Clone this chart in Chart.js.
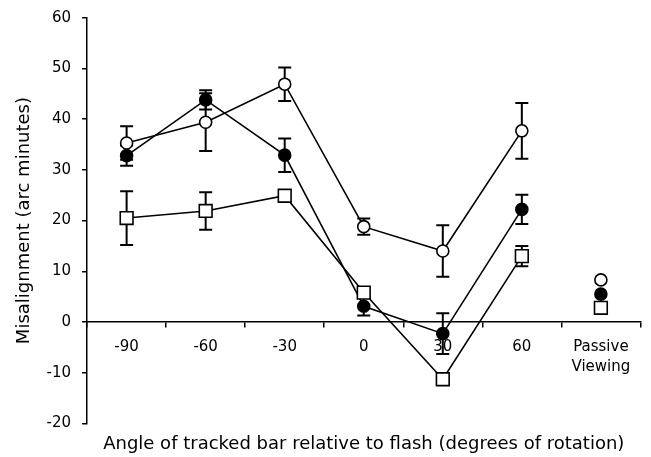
<!DOCTYPE html>
<html>
<head>
<meta charset="utf-8">
<script src="https://cdn.jsdelivr.net/npm/chart.js@4"></script>
<style>
  html, body { margin: 0; padding: 0; background: #fff; }
  #wrap { width: 651px; height: 457px; }
</style>
</head>
<body>
<div id="wrap"><canvas id="chart"></canvas></div>
<script>
// --- data ---
const angles = ['-90', '-60', '-30', '0', '30', '60', ['Passive', 'Viewing']];

const filledVals = [32.8, 43.8, 32.9, 3.1, -2.3, 22.2, 5.5];
const filledErr  = [2.0, 1.9, 3.3, 1.8, 4.0, 2.9, null];

const openVals = [35.3, 39.4, 46.9, 18.8, 14.0, 37.7, 8.3];
const openErr  = [3.3, 5.7, 3.3, 1.6, 5.1, 5.5, null];

const squareVals = [20.5, 21.9, 24.9, 5.8, -11.3, 13.0, 2.8];
const squareErr  = [5.3, 3.7, 1.0, 1.0, 1.0, 2.0, null];

const yTicks = [-20, -10, 0, 10, 20, 30, 40, 50, 60];

const FONT = "'DejaVu Sans', Arial, sans-serif";

// passive viewing point is not joined to the rest
const hideLast = c => c.p1DataIndex === angles.length - 1 ? 'rgba(0,0,0,0)' : '#000';

function series(vals, errs, style, fill, radius) {
    return {
        data: vals,
        errors: errs,
        borderColor: '#000',
        borderWidth: 1.6,
        pointStyle: style,
        pointRadius: radius,
        pointBorderWidth: 1.6,
        pointBackgroundColor: fill,
        pointBorderColor: '#000',
        segment: { borderColor: hideLast }
    };
}

// error bars go under the lines and markers
const errorBars = {
    id: 'errorBars',
    beforeDatasetsDraw(chart) {
        const { ctx, scales: { x, y } } = chart;
        ctx.save();
        ctx.strokeStyle = '#000';
        ctx.lineWidth = 2;
        chart.data.datasets.forEach(ds => {
            ds.data.forEach((v, i) => {
                const e = ds.errors[i];
                if (e == null) return;
                const px = x.getPixelForValue(i);
                const top = y.getPixelForValue(v + e);
                const bot = y.getPixelForValue(v - e);
                ctx.beginPath();
                ctx.moveTo(px, top); ctx.lineTo(px, bot);
                ctx.moveTo(px - 6.5, top); ctx.lineTo(px + 6.5, top);
                ctx.moveTo(px - 6.5, bot); ctx.lineTo(px + 6.5, bot);
                ctx.stroke();
            });
        });
        ctx.restore();
    }
};

new Chart(document.getElementById('chart'), {
    type: 'line',
    data: {
        labels: angles,
        datasets: [
            series(squareVals, squareErr, 'rect', '#fff', 9),
            series(openVals, openErr, 'circle', '#fff', 6),
            series(filledVals, filledErr, 'circle', '#000', 6)
        ]
    },
    options: {
        responsive: true,
        maintainAspectRatio: false,
        animation: false,
        layout: { padding: { left: 14, right: 10, top: 3, bottom: 0 } },
        plugins: {
            legend: { display: false },
            tooltip: { enabled: false },
            title: {
                display: true,
                position: 'bottom',
                fullSize: false,
                text: 'Angle of tracked bar relative to flash (degrees of rotation)',
                color: '#000',
                font: { family: FONT, size: 18, weight: 'normal' },
                padding: { top: 10, bottom: 2 }
            }
        },
        scales: {
            x: {
                type: 'category',
                position: { y: 0 },
                offset: true,
                grid: { offset: true, drawOnChartArea: false, tickLength: 5, color: '#000', lineWidth: 1.5 },
                border: { color: '#000', width: 1.5 },
                ticks: { color: '#000', padding: 10, maxRotation: 0, font: { family: FONT, size: 15, lineHeight: 1.35 } }
            },
            y: {
                min: -20,
                max: 60,
                afterBuildTicks: s => { s.ticks = yTicks.map(v => ({ value: v })); },
                grid: { drawOnChartArea: false, tickLength: 5, color: '#000', lineWidth: 1.5 },
                border: { color: '#000', width: 1.5 },
                ticks: { color: '#000', padding: 11, font: { family: FONT, size: 15, lineHeight: 0.9 } },
                title: {
                    display: true,
                    text: 'Misalignment (arc minutes)',
                    color: '#000',
                    font: { family: FONT, size: 18 },
                    padding: { top: 0, bottom: 0 }
                }
            }
        }
    },
    plugins: [errorBars]
});
</script>
</body>
</html>
